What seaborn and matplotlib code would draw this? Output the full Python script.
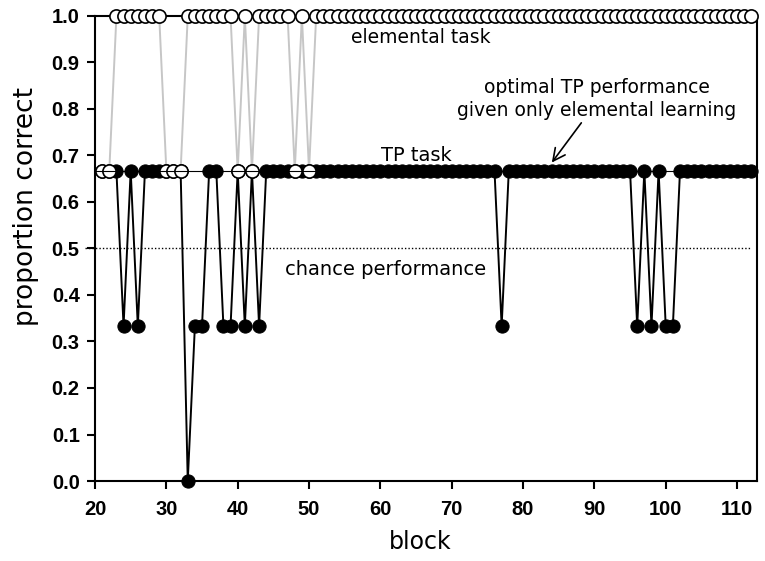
import matplotlib
matplotlib.use("Agg")
import matplotlib.pyplot as plt
import seaborn as sns

# blocks shown on the x axis
blocks = list(range(21, 113))

# proportion correct on the TP task (filled circles)
tp_task = [
    0.667, 0.667, 0.667, 0.333, 0.667, 0.333, 0.667, 0.667, 0.667, 0.667,  # 21-30
    0.667, 0.667, 0.0, 0.333, 0.333, 0.667, 0.667, 0.333, 0.333, 0.667,    # 31-40
    0.333, 0.667, 0.333, 0.667, 0.667, 0.667, 0.667, 0.667, 0.667, 0.667,  # 41-50
    0.667, 0.667, 0.667, 0.667, 0.667, 0.667, 0.667, 0.667, 0.667, 0.667,  # 51-60
    0.667, 0.667, 0.667, 0.667, 0.667, 0.667, 0.667, 0.667, 0.667, 0.667,  # 61-70
    0.667, 0.667, 0.667, 0.667, 0.667, 0.667, 0.333, 0.667, 0.667, 0.667,  # 71-80
    0.667, 0.667, 0.667, 0.667, 0.667, 0.667, 0.667, 0.667, 0.667, 0.667,  # 81-90
    0.667, 0.667, 0.667, 0.667, 0.667, 0.333, 0.667, 0.333, 0.667, 0.333,  # 91-100
    0.333, 0.667, 0.667, 0.667, 0.667, 0.667, 0.667, 0.667, 0.667, 0.667,  # 101-110
    0.667, 0.667,                                                          # 111-112
]

# proportion correct on the elemental task (open circles)
elemental_task = [
    0.667, 0.667, 1.0, 1.0, 1.0, 1.0, 1.0, 1.0, 1.0, 0.667,  # 21-30
    0.667, 0.667, 1.0, 1.0, 1.0, 1.0, 1.0, 1.0, 1.0, 0.667,  # 31-40
    1.0, 0.667, 1.0, 1.0, 1.0, 1.0, 1.0, 0.667, 1.0, 0.667,  # 41-50
    1.0, 1.0, 1.0, 1.0, 1.0, 1.0, 1.0, 1.0, 1.0, 1.0,        # 51-60
    1.0, 1.0, 1.0, 1.0, 1.0, 1.0, 1.0, 1.0, 1.0, 1.0,        # 61-70
    1.0, 1.0, 1.0, 1.0, 1.0, 1.0, 1.0, 1.0, 1.0, 1.0,        # 71-80
    1.0, 1.0, 1.0, 1.0, 1.0, 1.0, 1.0, 1.0, 1.0, 1.0,        # 81-90
    1.0, 1.0, 1.0, 1.0, 1.0, 1.0, 1.0, 1.0, 1.0, 1.0,        # 91-100
    1.0, 1.0, 1.0, 1.0, 1.0, 1.0, 1.0, 1.0, 1.0, 1.0,        # 101-110
    1.0, 1.0,                                                # 111-112
]

chance_level = 0.5
optimal_tp = 0.667

x_ticks = [20, 30, 40, 50, 60, 70, 80, 90, 100, 110]
y_ticks = [0.0, 0.1, 0.2, 0.3, 0.4, 0.5, 0.6, 0.7, 0.8, 0.9, 1.0]

sns.set_style("ticks")
plt.rcParams['font.family'] = ['DejaVu Sans']
plt.rcParams['text.color'] = 'black'
plt.rcParams['axes.labelcolor'] = 'black'

fig = plt.figure(figsize=(7.65, 5.61), dpi=100)
ax = fig.add_axes([0.1242, 0.1426, 0.8654, 0.8289])

# gray line of the elemental task goes underneath everything
sns.lineplot(x=blocks, y=elemental_task, ax=ax, color='#c6c6c6', lw=1.4,
             legend=False, zorder=2)

# TP task: black line with filled circles
sns.lineplot(x=blocks, y=tp_task, ax=ax, color='black', lw=1.4,
             marker='o', markersize=9.5, markerfacecolor='black',
             markeredgecolor='black', legend=False, zorder=3, clip_on=False)

# open circles of the elemental task on top
sns.lineplot(x=blocks, y=elemental_task, ax=ax, color='black', linestyle='',
             marker='o', markersize=9.5, markerfacecolor='white',
             markeredgecolor='black', markeredgewidth=1.2, legend=False,
             zorder=4, clip_on=False)

# reference lines
ax.axhline(optimal_tp, color='black', lw=0.8, zorder=5)
ax.axhline(chance_level, xmin=-0.015, xmax=0.99, color='black', lw=1.0,
           linestyle=(0, (1, 1.5)), zorder=1, clip_on=False)

ax.set_xlim(20, 112.8)
ax.set_ylim(0, 1.0)
ax.set_xticks(x_ticks)
ax.set_yticks(y_ticks)
tick_font = dict(fontfamily='Liberation Sans', fontweight='bold', fontsize=14.5)
ax.set_xticklabels([str(v) for v in x_ticks], **tick_font)
ax.set_yticklabels([f'{v:.1f}' for v in y_ticks], **tick_font)

for side in ['left', 'bottom', 'right', 'top']:
    ax.spines[side].set_visible(True)
    ax.spines[side].set_linewidth(1.5)
    ax.spines[side].set_color('black')

ax.tick_params(axis='both', direction='out', length=6, width=1.5, colors='black')
ax.tick_params(axis='x', pad=8)
ax.tick_params(axis='y', pad=5)
ax.tick_params(top=False, right=False)

ax.set_xlabel('block', fontsize=17)
ax.set_ylabel('proportion correct', fontsize=19)
ax.xaxis.set_label_coords(0.491, -0.105)
ax.yaxis.set_label_coords(-0.085, 0.59)

ax.text(65.6, 0.953, 'elemental task', ha='center', va='center', fontsize=13.5)
ax.text(65.0, 0.699, 'TP task', ha='center', va='center', fontsize=14)
ax.text(90.3, 0.822, 'optimal TP performance\ngiven only elemental learning',
        ha='center', va='center', fontsize=13.5, linespacing=1.25)
ax.text(60.7, 0.454, 'chance performance', ha='center', va='center', fontsize=14)
ax.annotate('', xy=(83.8, 0.68), xytext=(88.4, 0.775),
            arrowprops=dict(arrowstyle='->', lw=1.2, color='black',
                            mutation_scale=22))

fig.savefig('out.png', dpi=100)
